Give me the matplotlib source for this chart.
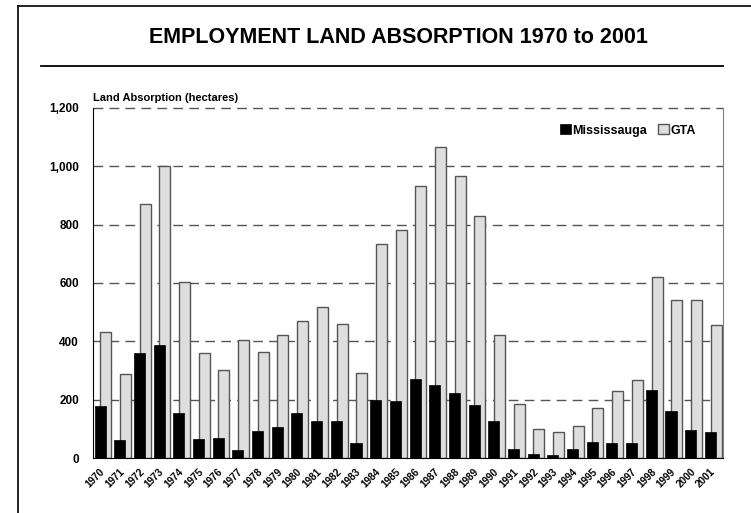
import numpy as np
import matplotlib.pyplot as plt
from matplotlib.lines import Line2D
from matplotlib.ticker import FuncFormatter
from matplotlib.transforms import ScaledTranslation

plt.rcParams['font.family'] = ['Liberation Sans', 'DejaVu Sans']
plt.rcParams['font.weight'] = 'bold'

years = list(range(1970, 2002))
mississauga = [178, 61, 360, 386, 154, 64, 70, 29, 93, 105, 154, 128, 127, 50, 200, 196,
               270, 249, 223, 183, 126, 32, 15, 12, 31, 56, 51, 51, 233, 160, 96, 90]
gta = [432, 289, 871, 1002, 603, 360, 301, 406, 362, 420, 470, 519, 461, 293, 734, 782,
       932, 1066, 967, 829, 422, 186, 101, 90, 110, 171, 231, 267, 622, 540, 540, 457]

fig = plt.figure(figsize=(7.51, 5.13), dpi=100)
ax = fig.add_axes([0.1238, 0.1072, 0.8389, 0.6823])

x = np.arange(len(years))
width = 0.56

# dashed gridlines sit behind the bars
for yv in range(200, 1201, 200):
    ax.axhline(yv, color='#555555', lw=1, dashes=(7, 4.5), zorder=0, clip_on=False)

ax.bar(x + 0.15, gta, width, color='#dedede', edgecolor='#555555', lw=1, zorder=2, label='GTA')
ax.bar(x - 0.14, mississauga, width, color='black', edgecolor='black', lw=0.5, zorder=3,
       label='Mississauga')

ax.set_xlim(-0.5, len(years) - 0.5)
ax.set_ylim(0, 1200)
ax.set_yticks(range(0, 1201, 200))
ax.yaxis.set_major_formatter(FuncFormatter(lambda v, p: f'{int(v):,}'))
ax.set_xticks(x)
ax.set_xticklabels([str(y) for y in years], rotation=45, ha='right', va='top',
                   fontsize=7.2, fontweight='bold')
ax.tick_params(axis='both', length=0)
ax.tick_params(axis='y', labelsize=8.5, pad=10)
ax.tick_params(axis='x', pad=6)
shift = ScaledTranslation(4 / 100, 0, fig.dpi_scale_trans)
for lab in ax.get_xticklabels():
    lab.set_transform(lab.get_transform() + shift)
for lab in ax.get_yticklabels():
    lab.set_fontweight('bold')

ax.spines['top'].set_visible(False)
ax.spines['right'].set_color('#808080')
ax.spines['left'].set_color('black')
ax.spines['bottom'].set_color('black')

ax.text(0, 1.015, 'Land Absorption (hectares)', transform=ax.transAxes,
        fontsize=8, fontweight='bold', ha='left', va='bottom')

handles, labels = ax.get_legend_handles_labels()
leg = ax.legend(handles[::-1], labels[::-1], loc='upper right', bbox_to_anchor=(0.975, 0.985),
                ncol=2, frameon=False, fontsize=9, handlelength=0.9, handleheight=0.8,
                handletextpad=0.1, columnspacing=0.9)
for t in leg.get_texts():
    t.set_fontweight('bold')

fig.text(0.53, 0.927, 'EMPLOYMENT LAND ABSORPTION 1970 to 2001', ha='center', va='center',
         fontsize=15.5, fontweight='bold')

# rule under the title and the surrounding frame
fig.add_artist(Line2D([0.0546, 0.963], [0.871, 0.871], color='black', lw=1.3))
fig.add_artist(Line2D([0.024, 1.0], [0.989, 0.989], color='black', lw=1.2))
fig.add_artist(Line2D([0.024, 0.024], [0.0, 0.989], color='black', lw=1.2))

fig.savefig('out.png', dpi=100)
